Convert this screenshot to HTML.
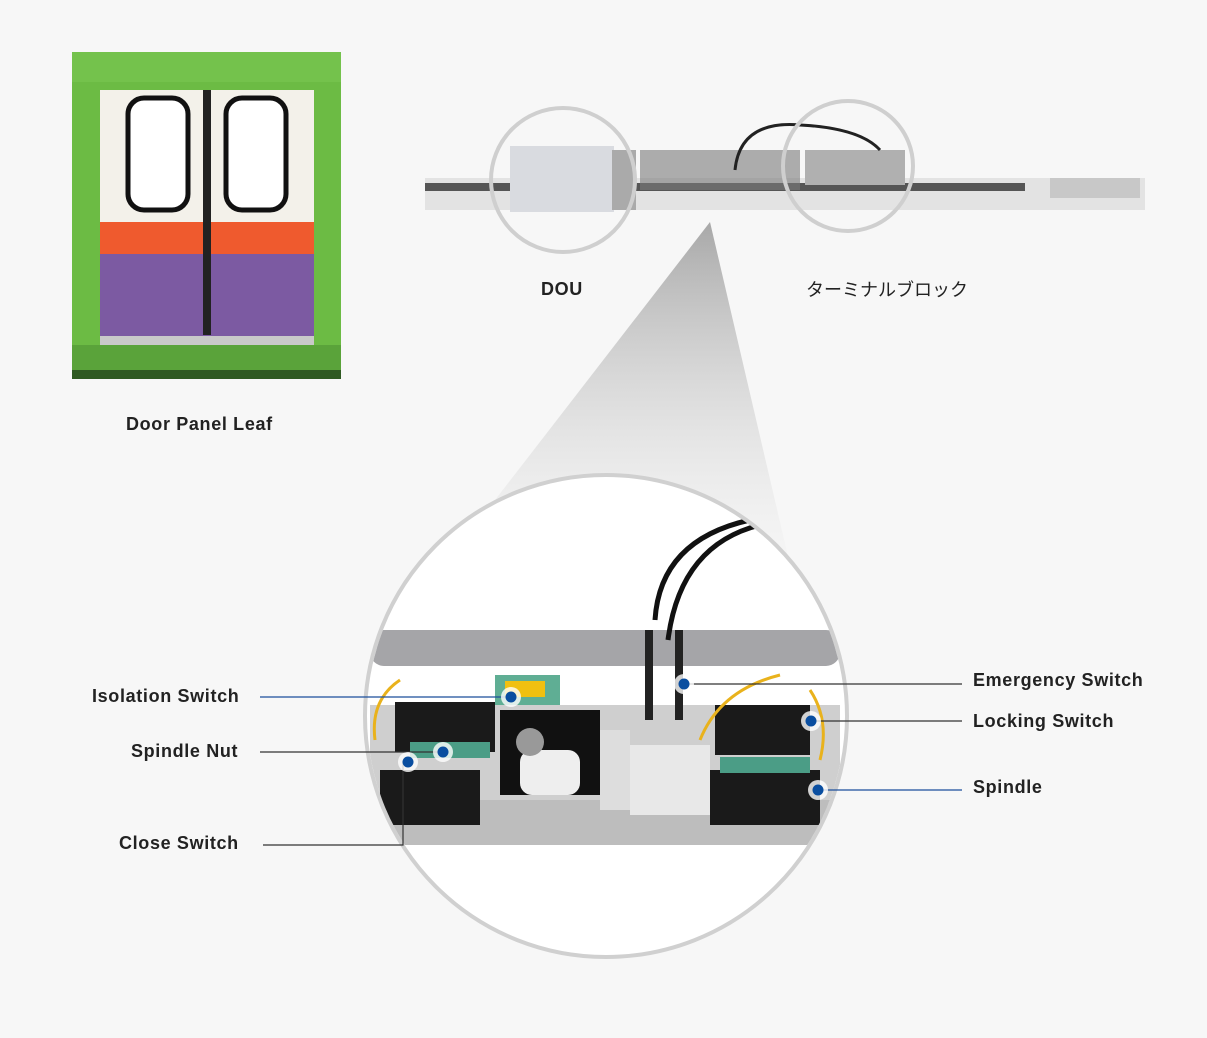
<!DOCTYPE html>
<html><head><meta charset="utf-8"><style>
html,body{margin:0;padding:0;background:#f7f7f7;}
body{width:1207px;height:1038px;position:relative;overflow:hidden;font-family:"Liberation Sans","Noto Sans CJK JP",sans-serif;}
.l{position:absolute;font-size:18px;font-weight:bold;color:#222;white-space:nowrap;letter-spacing:0.65px;}
</style></head><body>
<svg width="1207" height="1038" style="position:absolute;left:0;top:0">
<defs>
<linearGradient id="cone" x1="0" y1="0" x2="0" y2="1">
<stop offset="0" stop-color="#a8a8a8"/><stop offset="1" stop-color="#f2f2f2" stop-opacity="0.3"/>
</linearGradient>
<clipPath id="cc"><circle cx="606" cy="716" r="239"/></clipPath>
</defs>
<rect x="72" y="52" width="269" height="327" fill="#6cbb44"/>
<rect x="72" y="52" width="269" height="30" fill="#74c24c"/>
<rect x="72" y="345" width="269" height="34" fill="#5aa33a"/>
<rect x="72" y="370" width="269" height="9" fill="#2f5a22"/>
<rect x="100" y="90" width="214" height="132" fill="#f3f1ea"/>
<rect x="100" y="222" width="214" height="32" fill="#ef5a2e"/>
<rect x="100" y="254" width="214" height="82" fill="#7c5aa2"/>
<rect x="100" y="336" width="214" height="9" fill="#c9c9c9"/>
<rect x="203" y="90" width="8" height="245" fill="#222"/>
<rect x="128" y="98" width="60" height="112" rx="16" fill="#fff" stroke="#111" stroke-width="5"/>
<rect x="226" y="98" width="60" height="112" rx="16" fill="#fff" stroke="#111" stroke-width="5"/>
<rect x="425" y="178" width="720" height="32" fill="#e3e3e3"/>
<rect x="425" y="183" width="600" height="8" fill="#555"/>
<rect x="510" y="146" width="104" height="66" fill="#d9dbe0"/>
<rect x="612" y="150" width="24" height="60" fill="#aaa"/>
<rect x="640" y="150" width="160" height="40" fill="#7a7a7a" opacity="0.6"/>
<rect x="805" y="150" width="100" height="35" fill="#b0b0b0"/>
<rect x="1050" y="178" width="90" height="20" fill="#c8c8c8"/>
<path d="M735 170 Q740 120 800 125 Q860 128 880 150" fill="none" stroke="#222" stroke-width="3"/>
<circle cx="563" cy="180" r="72" fill="none" stroke="#cfcfcf" stroke-width="4"/>
<circle cx="848" cy="166" r="65" fill="none" stroke="#cfcfcf" stroke-width="4"/>
<polygon points="710,222 495,500 790,565" fill="url(#cone)"/>
<circle cx="606" cy="716" r="241" fill="#fff" stroke="#d0d0d0" stroke-width="4"/>
<g clip-path="url(#cc)">
<rect x="370" y="630" width="470" height="36" rx="14" fill="#a5a5a8"/>
<rect x="370" y="705" width="470" height="140" fill="#cfcfcf"/>
<rect x="370" y="800" width="470" height="45" fill="#bdbdbd"/>
<rect x="395" y="702" width="100" height="50" fill="#1a1a1a"/>
<rect x="500" y="710" width="100" height="85" fill="#111"/>
<rect x="520" y="750" width="60" height="45" rx="12" fill="#eee"/>
<circle cx="530" cy="742" r="14" fill="#999"/>
<rect x="380" y="770" width="100" height="55" fill="#1a1a1a"/>
<rect x="600" y="730" width="30" height="80" fill="#ddd"/>
<rect x="630" y="745" width="80" height="70" fill="#e8e8e8"/>
<rect x="715" y="705" width="95" height="50" fill="#1a1a1a"/>
<rect x="710" y="770" width="110" height="55" fill="#1a1a1a"/>
<rect x="410" y="742" width="80" height="16" fill="#4b9d86"/>
<rect x="720" y="757" width="90" height="16" fill="#4b9d86"/>
<rect x="495" y="675" width="65" height="30" fill="#5fae94"/>
<rect x="505" y="681" width="40" height="16" fill="#f0c010"/>
<path d="M655 620 Q660 540 750 520 M668 640 Q680 545 760 525" fill="none" stroke="#111" stroke-width="5"/>
<rect x="645" y="630" width="8" height="90" fill="#222"/><rect x="675" y="630" width="8" height="90" fill="#222"/>
<path d="M375 740 Q370 700 400 680 M700 740 Q720 690 780 675 M810 690 Q830 720 820 760" fill="none" stroke="#e9b21c" stroke-width="3"/>
</g>
<g fill="none" stroke-width="1.2">
<line x1="260" y1="697" x2="511" y2="697" stroke="#1b4e9b"/>
<line x1="260" y1="752" x2="443" y2="752" stroke="#333"/>
<polyline points="263,845 403,845 403,762 408,762" stroke="#333"/>
<line x1="684" y1="684" x2="962" y2="684" stroke="#333"/>
<line x1="811" y1="721" x2="962" y2="721" stroke="#333"/>
<line x1="818" y1="790" x2="962" y2="790" stroke="#1b4e9b"/>
</g>
<g fill="#fff" opacity="0.8">
<circle cx="511" cy="697" r="10"/><circle cx="443" cy="752" r="10"/><circle cx="408" cy="762" r="10"/>
<circle cx="684" cy="684" r="10"/><circle cx="811" cy="721" r="10"/><circle cx="818" cy="790" r="10"/>
</g>
<g fill="#0a4ea0">
<circle cx="511" cy="697" r="5.5"/><circle cx="443" cy="752" r="5.5"/><circle cx="408" cy="762" r="5.5"/>
<circle cx="684" cy="684" r="5.5"/><circle cx="811" cy="721" r="5.5"/><circle cx="818" cy="790" r="5.5"/>
</g>
</svg>
<div class="l" style="left:126px;top:414px">Door Panel Leaf</div>
<div class="l" style="left:541px;top:279px">DOU</div>
<div class="l" style="left:806px;top:276px;font-weight:normal;letter-spacing:0">ターミナルブロック</div>
<div class="l" style="left:92px;top:686px">Isolation Switch</div>
<div class="l" style="left:131px;top:741px">Spindle Nut</div>
<div class="l" style="left:119px;top:833px">Close Switch</div>
<div class="l" style="left:973px;top:670px">Emergency Switch</div>
<div class="l" style="left:973px;top:711px">Locking Switch</div>
<div class="l" style="left:973px;top:777px">Spindle</div>
</body></html>
